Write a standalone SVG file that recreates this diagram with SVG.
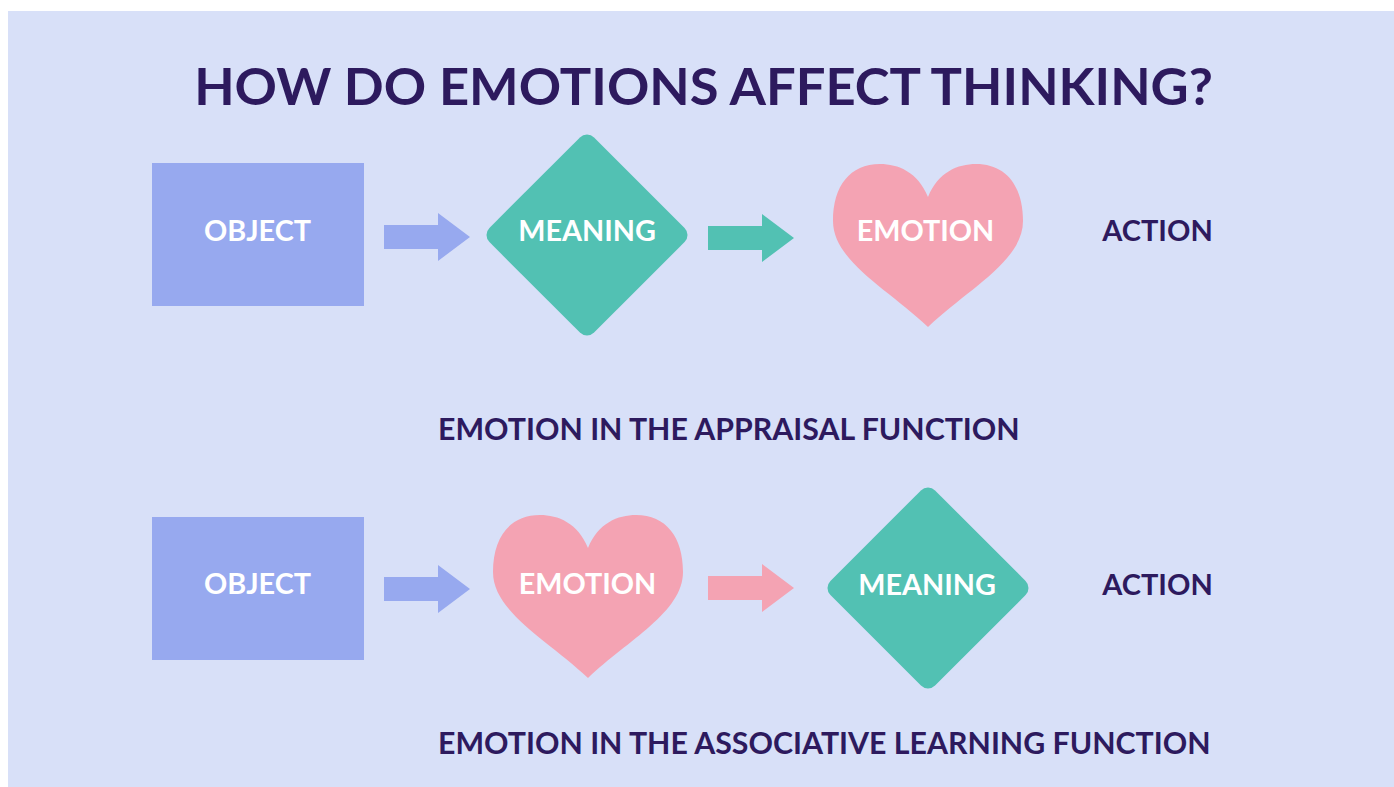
<svg xmlns="http://www.w3.org/2000/svg" xmlns:xlink="http://www.w3.org/1999/xlink" width="1394" height="787" viewBox="0 0 1394 787">
<defs>
<style>
.t{font-family:Lato,"Liberation Sans",Arial,sans-serif;font-weight:700}
.w{fill:#ffffff;font-size:28.8px;text-anchor:middle}
.d{fill:#2d1a5e}
.obj{fill:#97a9ef}
.teal{fill:#52c1b3}
.pink{fill:#f4a3b3}
</style>
<path id="arrow" d="M0,-12 H54 V-24 L86,0 L54,24 V12 H0 Z"/>
<path id="heart" d="M0,33 C10,8 30,0 48,0 C78,0 95,22 95,57 C95,97 40,125 0,163 C-40,125 -95,97 -95,57 C-95,22 -78,0 -48,0 C-30,0 -10,8 0,33 Z"/>
<rect id="dia" x="-74" y="-74" width="148" height="148" rx="10" ry="10" transform="rotate(45)"/>
</defs>
<rect x="0" y="0" width="1394" height="787" fill="#ffffff"/>
<rect x="8" y="11" width="1386" height="776" fill="#d8e0f8"/>
<text class="t d" x="703.5" y="105" font-size="52.5" text-anchor="middle">HOW DO EMOTIONS AFFECT THINKING?</text>

<g id="connectors">
<use xlink:href="#arrow" transform="translate(384,237)" fill="#97a9ef"/>
<use xlink:href="#arrow" transform="translate(708,238)" fill="#52c1b3"/>
<use xlink:href="#arrow" transform="translate(384,589)" fill="#97a9ef"/>
<use xlink:href="#arrow" transform="translate(708,588)" fill="#f4a3b3"/>
</g>

<g id="object1">
<rect class="obj" x="152" y="163" width="212" height="143"/>
<text class="t w" x="257.5" y="241">OBJECT</text>
</g>
<g id="meaning1">
<use xlink:href="#dia" class="teal" transform="translate(587,235)"/>
<text class="t w" x="587" y="241">MEANING</text>
</g>
<g id="emotion1">
<use xlink:href="#heart" class="pink" transform="translate(928,164)"/>
<text class="t w" x="925.5" y="241">EMOTION</text>
</g>
<g id="action1">
<text class="t d" x="1157.5" y="241" font-size="29" text-anchor="middle">ACTION</text>
</g>
<g id="caption1">
<text class="t d" x="438" y="440" font-size="30.3">EMOTION IN THE APPRAISAL FUNCTION</text>
</g>

<g id="object2">
<rect class="obj" x="152" y="517" width="212" height="143"/>
<text class="t w" x="257.5" y="594">OBJECT</text>
</g>
<g id="emotion2">
<use xlink:href="#heart" class="pink" transform="translate(588,515)"/>
<text class="t w" x="587.5" y="594">EMOTION</text>
</g>
<g id="meaning2">
<use xlink:href="#dia" class="teal" transform="translate(928,588)"/>
<text class="t w" x="927" y="595">MEANING</text>
</g>
<g id="action2">
<text class="t d" x="1157.5" y="595" font-size="29" text-anchor="middle">ACTION</text>
</g>
<g id="caption2">
<text class="t d" x="438" y="754" font-size="30.3">EMOTION IN THE ASSOCIATIVE LEARNING FUNCTION</text>
</g>
</svg>
